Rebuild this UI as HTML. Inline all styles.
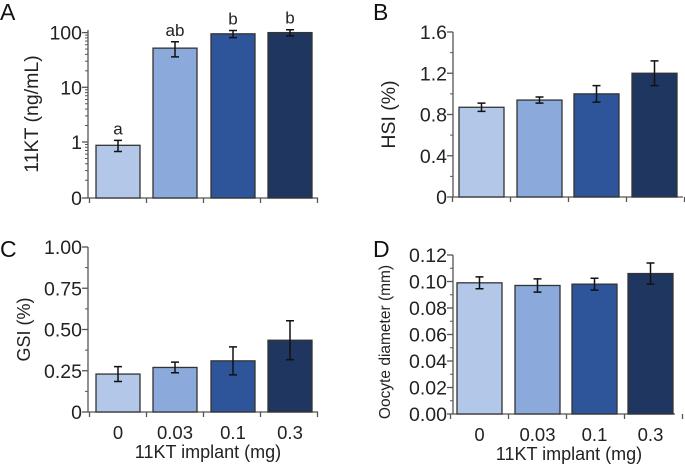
<!DOCTYPE html>
<html><head><meta charset="utf-8"><style>
html,body{margin:0;padding:0;background:#fff;}
svg{display:block;font-family:"Liberation Sans",Arial,sans-serif;}
</style></head><body>
<svg id="fig" width="685" height="465" viewBox="0 0 685 465"></svg>
<script>
const categories = ["0","0.03","0.1","0.3"];
const colors = ["#b3c7e8","#8ca9dc","#2e5599","#1f3661"];
const valuesA = [0.87, 52, 95, 100];
const errA = [0.2, 16, 14, 13];
const lettersA = ["a","ab","b","b"];
const valuesB = [0.87, 0.94, 1.0, 1.2];
const errB = [0.04, 0.03, 0.08, 0.12];
const valuesC = [0.23, 0.27, 0.31, 0.435];
const errC = [0.045, 0.032, 0.085, 0.118];
const valuesD = [0.099, 0.097, 0.098, 0.106];
const errD = [0.0045, 0.005, 0.0045, 0.008];
const ticksA = [0, 1, 10, 100];
const ticksB = [0, 0.4, 0.8, 1.2, 1.6];
const ticksC = [0, 0.25, 0.5, 0.75, 1.0];
const ticksD = [0, 0.02, 0.04, 0.06, 0.08, 0.1, 0.12];

const NS = "http://www.w3.org/2000/svg";
const svg = document.getElementById("fig");
function mk(tag, attrs, parent){ const e=document.createElementNS(NS,tag); for(const k in attrs) e.setAttribute(k,attrs[k]); (parent||svg).appendChild(e); return e; }

function panel(o){
  const g = mk("g",{});
  
  
  const {ax, yTop, yBot, xEnd, barX, barW, y} = o;
  const L = mk("text",{x:o.lx,y:o.ly,"font-size":23,fill:"#111"},g); L.textContent=o.letter;
  
  
  o.minor.forEach(v=>{ mk("line",{x1:ax-3,x2:ax,y1:y(v),y2:y(v),stroke:"#555","stroke-width":1},g); });
  const ya = mk("line",{x1:ax,x2:ax,y1:yTop,y2:yBot,stroke:"#555","stroke-width":1.3},g);
   
  o.ticks.forEach((v,i)=>{
    const yy=y(v);
    mk("line",{x1:ax-6,x2:ax,y1:yy,y2:yy,stroke:"#555","stroke-width":1.3},g);
    const t=mk("text",{x:ax-6,y:yy+7,"text-anchor":"end","font-size":19.5,fill:"#222"},g);
    t.textContent=o.tickLabels[i];
    
    
  });
  const xa = mk("line",{x1:ax,x2:xEnd,y1:yBot,y2:yBot,stroke:"#555","stroke-width":1.3},g);
   
  const step = barX[1]-barX[0];
  for(let i=0;i<=categories.length;i++){
    const xx = barX[0]-(step-barW)/2 + i*step;
    mk("line",{x1:xx,x2:xx,y1:yBot,y2:yBot+5,stroke:"#555","stroke-width":1.3},g);
  }
  o.values.forEach((v,i)=>{
    const x0=barX[i], yt=y(v);
    const r=mk("rect",{x:x0,y:yt,width:barW,height:yBot-yt,fill:colors[i],stroke:"#333","stroke-width":1.3},g);
    
    
    const cx=x0+barW/2, e=o.err[i];
    const y1=y(v+e), y2=y(Math.max(v-e,o.minV||0));
    const eb=mk("path",{d:`M${cx},${y1}V${y2}M${cx-4},${y1}H${cx+4}M${cx-4},${y2}H${cx+4}`,stroke:"#111","stroke-width":1.5,fill:"none"},g);
    
    
    if(o.letters){
      const t=mk("text",{x:cx,y:y1-6,"text-anchor":"middle","font-size":17,fill:"#222"},g);
      t.textContent=o.letters[i];
      
      
    }
    if(o.showX){
      const t=mk("text",{x:cx,y:yBot+27,"text-anchor":"middle","font-size":18.5,fill:"#222"},g);
      t.textContent=categories[i];
      
      
    }
  });
  if(o.showX){
    const t=mk("text",{x:(ax+xEnd)/2+5,y:yBot+46,"text-anchor":"middle","font-size":18,fill:"#222"},g);
    t.textContent="11KT implant (mg)";
    
    
  }
  const yt=mk("text",{x:0,y:0,"text-anchor":"middle","font-size":o.tfs||19.5,fill:"#222",transform:`translate(${o.tx},${o.tcy||(yTop+yBot)/2}) rotate(-90)`},g);
  yt.textContent=o.title;
  
  
}

function lin(vmax,yTop,yBot){ return v=>yBot-(v/vmax)*(yBot-yTop); }
function logA(v){ return v<=0.1 ? 198 : 142-Math.log10(v)*54.7; }

const minorA=[];
[1,10].forEach(d=>{for(let k=2;k<=9;k++) minorA.push(d*k);});
for(let k=2;k<=9;k++) minorA.push(k/10);
panel({name:"panel-a-11kt",letter:"A",lx:0,ly:20,ax:88,yTop:30,yBot:198,xEnd:318,barX:[96,153,211,268],barW:44,
  y:logA,ticks:ticksA,tickLabels:["0","1","10","100"],minor:minorA,values:valuesA,err:errA,letters:lettersA,minV:0.2,
  title:"11KT (ng/mL)",tx:38,showX:false});
panel({name:"panel-b-hsi",letter:"B",lx:373,ly:20,ax:453,yTop:32,yBot:197,xEnd:683,barX:[459,517,574,632],barW:45,
  y:lin(1.6,32,197),ticks:ticksB,tickLabels:["0","0.4","0.8","1.2","1.6"],minor:[0.2,0.6,1.0,1.4],values:valuesB,err:errB,
  title:"HSI (%)",tx:395,showX:false});
panel({name:"panel-c-gsi",letter:"C",lx:0,ly:257,ax:88,yTop:247,yBot:412,xEnd:318,barX:[96,153,211,268],barW:44,
  y:lin(1.0,247,412),ticks:ticksC,tickLabels:["0","0.25","0.50","0.75","1.00"],minor:[0.125,0.375,0.625,0.875],values:valuesC,err:errC,
  title:"GSI (%)",tx:30,tfs:18,showX:true});
panel({name:"panel-d-oocyte",letter:"D",lx:373,ly:257,ax:453,yTop:255,yBot:414,xEnd:675,barX:[457,515,572,628],barW:45,
  y:lin(0.12,255,414),ticks:ticksD,tickLabels:["0.00","0.02","0.04","0.06","0.08","0.10","0.12"],minor:[0.01,0.03,0.05,0.07,0.09,0.11],values:valuesD,err:errD,
  title:"Oocyte diameter (mm)",tx:390,tfs:15.5,tcy:342,showX:true});
</script>
</body></html>
